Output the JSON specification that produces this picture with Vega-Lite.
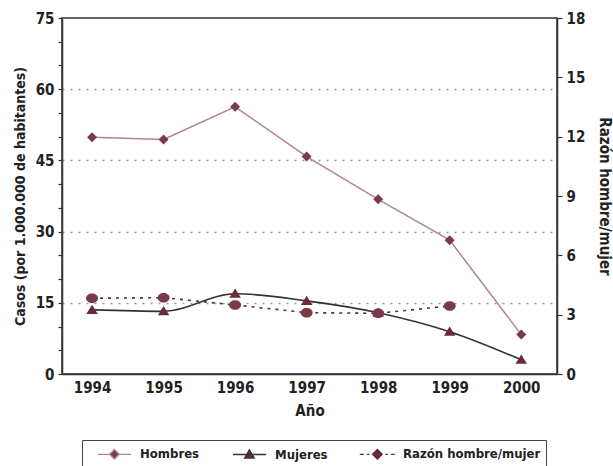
{
  "$schema": "https://vega.github.io/schema/vega-lite/v6.json",
  "autosize": "none",
  "width": 495,
  "height": 356,
  "padding": {"left": 62, "top": 18, "right": 56, "bottom": 92},
  "background": "white",
  "config": {
    "view": {"stroke": "#333", "strokeWidth": 1.5},
    "font": "Liberation Sans Narrow, DejaVu Sans Condensed, sans-serif",
    "axis": {
      "labelFont": "Liberation Sans Narrow, DejaVu Sans Condensed, sans-serif",
      "titleFont": "Liberation Sans Narrow, DejaVu Sans Condensed, sans-serif",
      "labelFontSize": 15,
      "titleFontSize": 15,
      "labelFontWeight": "bold",
      "titleFontWeight": "bold",
      "labelColor": "#222",
      "titleColor": "#222",
      "domainColor": "#333",
      "domainWidth": 1.5,
      "tickColor": "#333",
      "tickWidth": 1.2
    },
    "legend": {
      "labelFont": "Liberation Sans Narrow, DejaVu Sans Condensed, sans-serif",
      "labelFontSize": 13,
      "labelFontWeight": "bold",
      "labelColor": "#222"
    }
  },
  "data": {
    "values": [
      {"anio": 1994, "serie": "Hombres", "valor": 49.9},
      {"anio": 1995, "serie": "Hombres", "valor": 49.4},
      {"anio": 1996, "serie": "Hombres", "valor": 56.3},
      {"anio": 1997, "serie": "Hombres", "valor": 45.8},
      {"anio": 1998, "serie": "Hombres", "valor": 36.8},
      {"anio": 1999, "serie": "Hombres", "valor": 28.2},
      {"anio": 2000, "serie": "Hombres", "valor": 8.3},
      {"anio": 1994, "serie": "Mujeres", "valor": 13.5},
      {"anio": 1995, "serie": "Mujeres", "valor": 13.2},
      {"anio": 1996, "serie": "Mujeres", "valor": 16.9},
      {"anio": 1997, "serie": "Mujeres", "valor": 15.4},
      {"anio": 1998, "serie": "Mujeres", "valor": 12.9},
      {"anio": 1999, "serie": "Mujeres", "valor": 8.9},
      {"anio": 2000, "serie": "Mujeres", "valor": 3.0},
      {"anio": 1994, "serie": "Razón hombre/mujer", "valor": 3.83},
      {"anio": 1995, "serie": "Razón hombre/mujer", "valor": 3.86},
      {"anio": 1996, "serie": "Razón hombre/mujer", "valor": 3.49},
      {"anio": 1997, "serie": "Razón hombre/mujer", "valor": 3.1},
      {"anio": 1998, "serie": "Razón hombre/mujer", "valor": 3.07},
      {"anio": 1999, "serie": "Razón hombre/mujer", "valor": 3.44}
    ]
  },
  "encoding": {
    "x": {
      "field": "anio",
      "type": "quantitative",
      "scale": {"domain": [1993.58, 2000.5], "nice": false, "zero": false},
      "axis": {
        "title": "Año",
        "values": [1994, 1995, 1996, 1997, 1998, 1999, 2000],
        "format": "d",
        "ticks": false,
        "grid": false,
        "labelPadding": 6,
        "titlePadding": 8
      }
    }
  },
  "layer": [
    {
      "encoding": {
        "y": {
          "field": "valor",
          "type": "quantitative",
          "scale": {"domain": [0, 75], "nice": false},
          "axis": {
            "orient": "left",
            "title": "Casos (por 1.000.000 de habitantes)",
            "titleFontSize": 14,
            "values": [0, 5, 10, 15, 20, 25, 30, 35, 40, 45, 50, 55, 60, 65, 70, 75],
            "labelExpr": "datum.value % 15 === 0 ? datum.label : ''",
            "tickSize": 4,
            "labelPadding": 4,
            "titlePadding": 8,
            "grid": true,
            "gridColor": "#999",
            "gridDash": [2, 6],
            "gridWidth": 1.3,
            "gridOpacity": {"condition": {"test": "datum.value % 15 === 0 && datum.value > 0 && datum.value < 75", "value": 1}, "value": 0}
          }
        }
      },
      "layer": [
        {
          "transform": [{"filter": "datum.serie === 'Hombres'"}],
          "mark": {"type": "line", "color": "#b0868b", "strokeWidth": 1.5}
        },
        {
          "transform": [{"filter": "datum.serie === 'Mujeres'"}],
          "mark": {"type": "line", "color": "#333", "strokeWidth": 1.6, "interpolate": "monotone"}
        },
        {
          "transform": [{"filter": "datum.serie === 'Hombres'"}],
          "mark": {"type": "point", "filled": true, "fill": "#7a3a48", "opacity": 1, "strokeWidth": 0, "size": 100, "shape": "M0,-1L1,0L0,1L-1,0Z"}
        },
        {
          "transform": [{"filter": "datum.serie === 'Mujeres'"}],
          "mark": {"type": "point", "filled": true, "fill": "#6a2a38", "opacity": 1, "strokeWidth": 0, "size": 100, "shape": "M0,-1.05L1.15,0.8L-1.15,0.8Z"}
        },
        {
          "transform": [{"filter": "datum.anio === 1994"}],
          "mark": {"type": "point", "filled": true, "opacity": 0, "strokeWidth": 0, "size": 256},
          "encoding": {
            "shape": {
              "field": "serie",
              "type": "nominal",
              "scale": {
                "domain": ["Hombres", "Mujeres", "Razón hombre/mujer"],
                "range": [
                  "M0.25,0L1.7,0M2.9,0L4.4,0M2.3,-0.6L2.9,0L2.3,0.6L1.7,0Z",
                  "M0.25,0L4.4,0M2.3,-0.6L2.9,0.45L1.7,0.45Z",
                  "M0.1,0L0.6,0M1.0,0L1.3,0M3.3,0L3.6,0M4.0,0L4.5,0M2.3,-0.6L2.9,0L2.3,0.6L1.7,0Z"
                ]
              },
              "legend": {
                "title": null,
                "orient": "none",
                "legendX": 20,
                "legendY": 422,
                "direction": "horizontal",
                "strokeColor": "#444",
                "padding": 5,
                "columnPadding": 22,
                "labelOffset": 35,
                "symbolSize": 256,
                "encode": {
                  "symbols": {
                    "update": {
                      "strokeWidth": {"value": 1.3},
                      "opacity": {"value": 1},
                      "size": {"value": 256}
                    }
                  }
                }
              }
            },
            "fill": {
              "field": "serie",
              "type": "nominal",
              "scale": {
                "domain": ["Hombres", "Mujeres", "Razón hombre/mujer"],
                "range": ["#7a3a48", "#6a2a38", "#6a2a38"]
              },
              "legend": {
                "title": null,
                "orient": "none",
                "legendX": 20,
                "legendY": 422,
                "direction": "horizontal",
                "strokeColor": "#444",
                "padding": 5,
                "columnPadding": 22,
                "labelOffset": 35,
                "symbolSize": 256,
                "encode": {
                  "symbols": {
                    "update": {
                      "strokeWidth": {"value": 1.3},
                      "opacity": {"value": 1},
                      "size": {"value": 256}
                    }
                  }
                }
              }
            },
            "stroke": {
              "field": "serie",
              "type": "nominal",
              "scale": {
                "domain": ["Hombres", "Mujeres", "Razón hombre/mujer"],
                "range": ["#b0868b", "#333333", "#5a2a35"]
              },
              "legend": {
                "title": null,
                "orient": "none",
                "legendX": 20,
                "legendY": 422,
                "direction": "horizontal",
                "strokeColor": "#444",
                "padding": 5,
                "columnPadding": 22,
                "labelOffset": 35,
                "symbolSize": 256,
                "encode": {
                  "symbols": {
                    "update": {
                      "strokeWidth": {"value": 1.3},
                      "opacity": {"value": 1},
                      "size": {"value": 256}
                    }
                  }
                }
              }
            }
          }
        }
      ]
    },
    {
      "encoding": {
        "y": {
          "field": "valor",
          "type": "quantitative",
          "scale": {"domain": [0, 18], "nice": false},
          "axis": {
            "orient": "right",
            "title": "Razón hombre/mujer",
            "titleAngle": 90,
            "values": [0, 3, 6, 9, 12, 15, 18],
            "tickSize": 5,
            "labelPadding": 4,
            "titlePadding": 12,
            "grid": false
          }
        }
      },
      "layer": [
        {
          "transform": [{"filter": "datum.serie === 'Razón hombre/mujer'"}],
          "mark": {"type": "line", "color": "#5a2a35", "strokeWidth": 1.6, "strokeDash": [3, 5]}
        },
        {
          "transform": [{"filter": "datum.serie === 'Razón hombre/mujer'"}],
          "mark": {"type": "point", "filled": true, "fill": "#7a3a48", "opacity": 1, "strokeWidth": 0, "size": 100, "shape": "M-1.2,0A1.2,0.95 0 1,0 1.2,0A1.2,0.95 0 1,0 -1.2,0Z"}
        }
      ]
    }
  ],
  "resolve": {"scale": {"y": "independent"}}
}
